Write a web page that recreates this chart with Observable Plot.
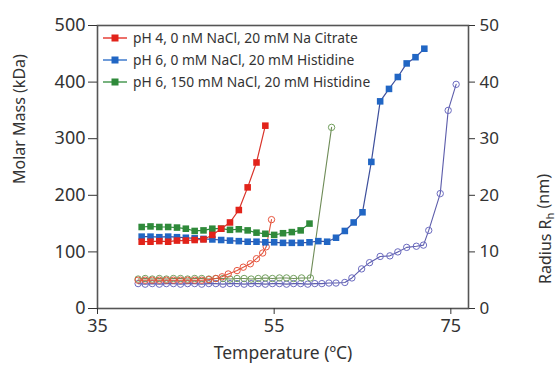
<!DOCTYPE html>
<html>
<head>
<meta charset="utf-8">
<script src="https://cdn.jsdelivr.net/npm/d3@7"></script>
<script src="https://cdn.jsdelivr.net/npm/@observablehq/plot@0.6"></script>
<style>
  html, body { margin: 0; padding: 0; background: #fff; }
  #wrap { position: relative; width: 557px; height: 370px; font-family: "Noto Sans", sans-serif; }
  #legend { position: absolute; left: 103px; top: 27px; font-size: 13.8px; color: #333; line-height: 22px; }
  #legend .row { display: flex; align-items: center; height: 22px; white-space: nowrap; }
  #legend svg { margin-right: 6px; }
</style>
</head>
<body>
<div id="wrap"><div id="legend"></div></div>
<script>
// Temperature ticks and axis ticks
const xTicks = [35, 55, 75];
const massTicks = [0, 100, 200, 300, 400, 500];
const radiusTicks = [0, 10, 20, 30, 40, 50];

// Series labels
const seriesNames = [
  "pH 4, 0 nM NaCl, 20 mM Na Citrate",
  "pH 6, 0 mM NaCl, 20 mM Histidine",
  "pH 6, 150 mM NaCl, 20 mM Histidine"
];
const seriesColors = ["#e2231a", "#2166c4", "#2f8a3a"];

// Molar mass (kDa), filled squares
const redMassT = [40,41,42,43,44,45,46,47,48,49,50,51,52,53,54];
const redMass  = [118,118,119,118,120,120,121,122,130,141,152,174,214,258,323];

const blueMassT = [40,41,42,43,44,45,46,47,48,49,50,51,52,53,54,55,56,57,58,59,60,61,62,63,64,65,66,67,68,69,70,71,72];
const blueMass  = [127,127,126,127,126,125,124,123,122,121,120,119,118,118,117,117,116,116,116,117,119,118,125,137,152,170,259,366,388,409,433,444,459];

const greenMassT = [40,41,42,43,44,45,46,47,48,49,50,51,52,53,54,55,56,57,58,59];
const greenMass  = [144,145,144,144,143,141,137,138,141,141,139,140,138,134,132,130,133,135,138,150];

// Hydrodynamic radius (nm), open circles
const redRadT = [39.6,40.4,41.2,42.0,42.8,43.6,44.4,45.2,46.0,46.8,47.6,48.4,49.1,49.8,50.8,51.5,52.3,53.0,53.7,54.1,54.7];
const redRad  = [5.0,5.0,5.0,5.0,5.0,5.0,5.0,5.0,5.0,5.0,5.1,5.3,5.6,6.1,6.7,7.3,7.9,8.8,9.8,10.9,15.7];

const greenRadT = [39.6,40.4,41.2,42.0,42.8,43.6,44.4,45.2,46.0,46.8,47.6,48.4,49.2,50.0,50.8,51.6,52.4,53.2,54.0,54.8,55.6,56.4,57.2,58.1,59.1,61.5];
const greenRad  = [5.2,5.3,5.2,5.3,5.2,5.3,5.3,5.2,5.3,5.3,5.2,5.3,5.3,5.2,5.3,5.3,5.2,5.3,5.4,5.3,5.4,5.4,5.3,5.4,5.4,32.0];

const blueRadT = [39.6,40.4,41.2,42.0,42.8,43.6,44.4,45.2,46.0,46.8,47.6,48.4,49.2,50.0,50.8,51.6,52.4,53.2,54.0,54.8,55.6,56.4,57.2,58.0,58.8,59.6,60.4,61.2,62.0,
                  63.0,63.8,64.9,65.8,67.0,68.1,69.0,70.0,71.1,71.9,72.5,73.8,74.7,75.6];
const blueRad  = [4.4,4.3,4.4,4.3,4.4,4.4,4.3,4.4,4.4,4.3,4.4,4.4,4.3,4.4,4.4,4.3,4.4,4.4,4.3,4.4,4.4,4.3,4.4,4.4,4.3,4.4,4.4,4.5,4.5,
                  4.6,5.4,7.0,8.1,9.2,9.3,10.0,10.8,11.0,11.2,13.8,20.3,35.0,39.6];

const zip = (xs, ys) => xs.map((x, i) => ({x, y: ys[i]}));
// radius (0-50 nm) is drawn against the molar-mass scale (0-500) via factor 10 (secondary axis)
const zipR = (xs, ys) => xs.map((x, i) => ({x, y: ys[i] * 10}));

const redM = zip(redMassT, redMass), blueM = zip(blueMassT, blueMass), greenM = zip(greenMassT, greenMass);
const redR = zipR(redRadT, redRad), blueR = zipR(blueRadT, blueRad), greenR = zipR(greenRadT, greenRad);

const openLine = (d, c) => Plot.line(d, {x: "x", y: "y", stroke: c, strokeWidth: 1.1});
const openDots = (d, c) => Plot.dot(d, {x: "x", y: "y", r: 3.2, stroke: c, strokeWidth: 1, fill: "none"});
const fillLine = (d, c) => Plot.line(d, {x: "x", y: "y", stroke: c, strokeWidth: 1.2});
const fillDots = (d, c) => Plot.dot(d, {x: "x", y: "y", symbol: "square", r: 3.7, fill: c, stroke: "none"});

const plot = Plot.plot({
  width: 557, height: 370,
  marginLeft: 97, marginRight: 89, marginTop: 25, marginBottom: 62,
  style: {fontFamily: "'Noto Sans', sans-serif", fontSize: "16px", color: "#333", background: "transparent"},
  x: {domain: [35, 77]},
  y: {domain: [0, 500]},
  marks: [
    Plot.frame({stroke: "#555", strokeWidth: 1.6}),
    Plot.axisX({ticks: xTicks, tickSize: 6, tickPadding: 5, label: null, fontSize: 18}),
    Plot.axisY({anchor: "left", ticks: massTicks, tickSize: 9, tickPadding: 3, label: null, fontSize: 18}),
    Plot.axisY({anchor: "right", ticks: radiusTicks.map(r => r * 10), tickFormat: d => String(d / 10), tickSize: 6, tickPadding: 5, label: null, fontSize: 17}),
    Plot.text(["Temperature (ºC)"], {frameAnchor: "bottom", dy: 50, fontSize: 17.5, fill: "#333"}),
    Plot.text(["Molar Mass (kDa)"], {frameAnchor: "left", dx: -78, dy: 17, rotate: -90, fontSize: 16, fill: "#333"}),
    Plot.text(["Radius Rh (nm)"], {frameAnchor: "right", dx: 77, dy: 7, rotate: -90, fontSize: 16, fill: "#333"}),
    // open-circle radius series
    openLine(blueR, "#5d5dab"), openDots(blueR, "#6b6bc0"),
    openLine(greenR, "#6f8c58"), openDots(greenR, "#72a05e"),
    openLine(redR, "#e0553e"), openDots(redR, "#e8553e"),
    // filled-square molar mass series
    fillLine(blueM, "#3d4f9c"), fillDots(blueM, seriesColors[1]),
    fillLine(greenM, seriesColors[2]), fillDots(greenM, seriesColors[2]),
    fillLine(redM, "#d9332a"), fillDots(redM, seriesColors[0])
  ]
});

document.getElementById("wrap").prepend(plot);

// subscript h in the right axis title
d3.select(plot).selectAll("text").each(function() {
  if (this.textContent === "Radius Rh (nm)") {
    const t = d3.select(this);
    t.text(null);
    t.append("tspan").text("Radius R");
    t.append("tspan").attr("font-size", "11px").attr("dy", "0.35em").text("h");
    t.append("tspan").attr("dy", "-0.35em").text(" (nm)");
  }
});

// legend
const legend = d3.select("#legend");
seriesNames.forEach((name, i) => {
  const row = legend.append("div").attr("class", "row");
  const s = row.append("svg").attr("width", 24).attr("height", 10);
  s.append("line").attr("x1", 0).attr("x2", 24).attr("y1", 5).attr("y2", 5).attr("stroke", seriesColors[i]).attr("stroke-width", 1.3);
  s.append("rect").attr("x", 8.5).attr("y", 1.5).attr("width", 7).attr("height", 7).attr("fill", seriesColors[i]);
  row.append("span").text(name);
});
</script>
</body>
</html>
